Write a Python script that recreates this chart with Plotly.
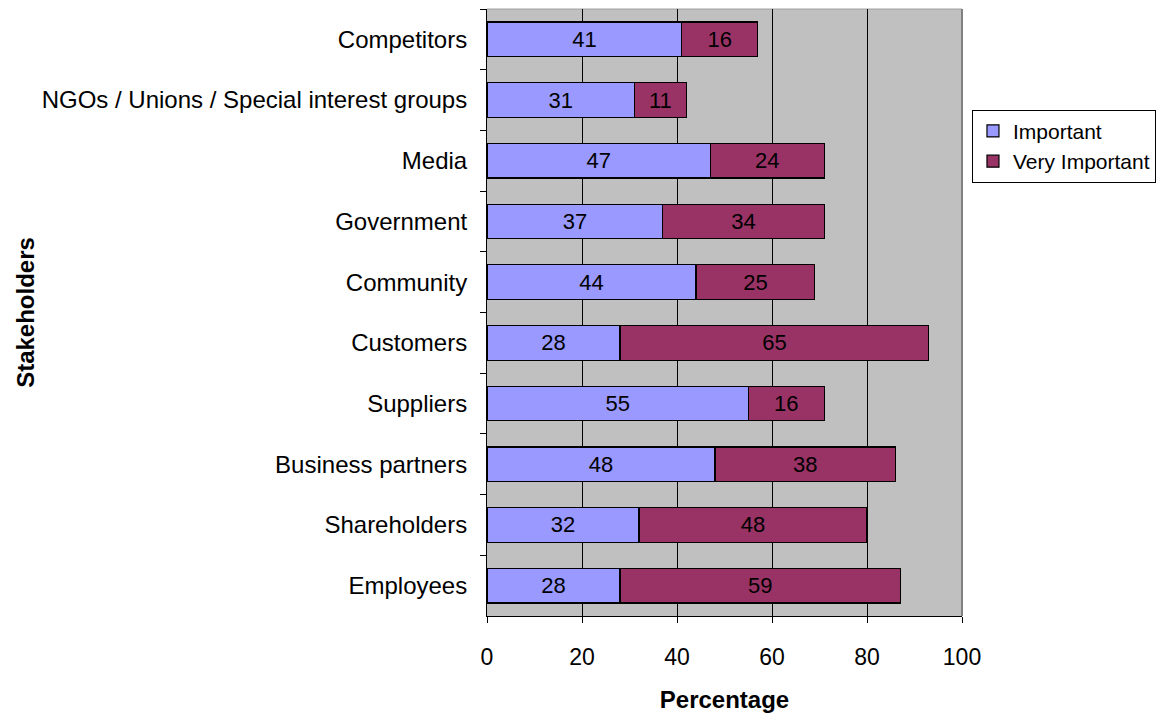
import plotly.graph_objects as go

# Stakeholder groups, listed top to bottom
stakeholders = [
    "Competitors",
    "NGOs / Unions / Special interest groups",
    "Media",
    "Government",
    "Community",
    "Customers",
    "Suppliers",
    "Business partners",
    "Shareholders",
    "Employees",
]
important = [41, 31, 47, 37, 44, 28, 55, 48, 32, 28]
very_important = [16, 11, 24, 34, 25, 65, 16, 38, 48, 59]

x_ticks = [0, 20, 40, 60, 80, 100]

FONT = "Liberation Sans, Arial, sans-serif"

fig = go.Figure()
fig.add_trace(go.Bar(
    y=stakeholders, x=important, orientation="h", name="Important",
    marker=dict(color="#9999FF", line=dict(color="black", width=1.2)),
    text=important, textposition="inside", insidetextanchor="middle",
    textfont=dict(color="black", size=22, family=FONT),
    textangle=0, constraintext="none",
))
fig.add_trace(go.Bar(
    y=stakeholders, x=very_important, orientation="h", name="Very Important",
    marker=dict(color="#993366", line=dict(color="black", width=1.2)),
    text=very_important, textposition="inside", insidetextanchor="middle",
    textfont=dict(color="black", size=22, family=FONT),
    textangle=0, constraintext="none",
))

fig.update_layout(
    barmode="stack",
    bargap=0.43,
    width=1174, height=717,
    margin=dict(l=487, r=212, t=9, b=95),
    paper_bgcolor="white",
    plot_bgcolor="#C0C0C0",
    font=dict(family=FONT, size=22, color="black"),
    showlegend=True,
    legend=dict(
        x=1.021, y=0.834, xanchor="left", yanchor="top",
        bgcolor="white", bordercolor="black", borderwidth=1,
        font=dict(size=21, family=FONT), traceorder="normal",
        itemwidth=30, tracegroupgap=0,
    ),
    uniformtext=dict(mode=False),
)

fig.update_xaxes(
    range=[0, 100], tickvals=x_ticks, ticktext=[str(v) for v in x_ticks],
    showgrid=True, gridcolor="black", gridwidth=1,
    showline=True, linecolor="black", linewidth=1,
    ticks="outside", ticklen=6, tickcolor="black",
    ticklabelstandoff=14,
    tickfont=dict(size=23, family=FONT),
    zeroline=False,
    title=dict(text="<b>Percentage</b>", font=dict(size=24, family=FONT), standoff=22),
)
fig.update_yaxes(
    categoryorder="array", categoryarray=stakeholders, autorange="reversed",
    showline=True, linecolor="black", linewidth=1,
    ticks="outside", ticklen=6, tickcolor="black", tickson="boundaries",
    ticklabelstandoff=14,
    tickfont=dict(size=24, family=FONT),
    showgrid=False,
    title=dict(text="<b>Stakeholders</b>", font=dict(size=24, family=FONT), standoff=0),
)

# grey frame along the top and right of the plot area
fig.add_shape(type="line", xref="paper", yref="paper", x0=0, x1=1, y0=1, y1=1,
              line=dict(color="#A0A0A0", width=1), layer="below")
fig.add_shape(type="line", xref="paper", yref="paper", x0=1, x1=1, y0=0, y1=1,
              line=dict(color="#808080", width=2), layer="below")

fig.write_html("out.html")
